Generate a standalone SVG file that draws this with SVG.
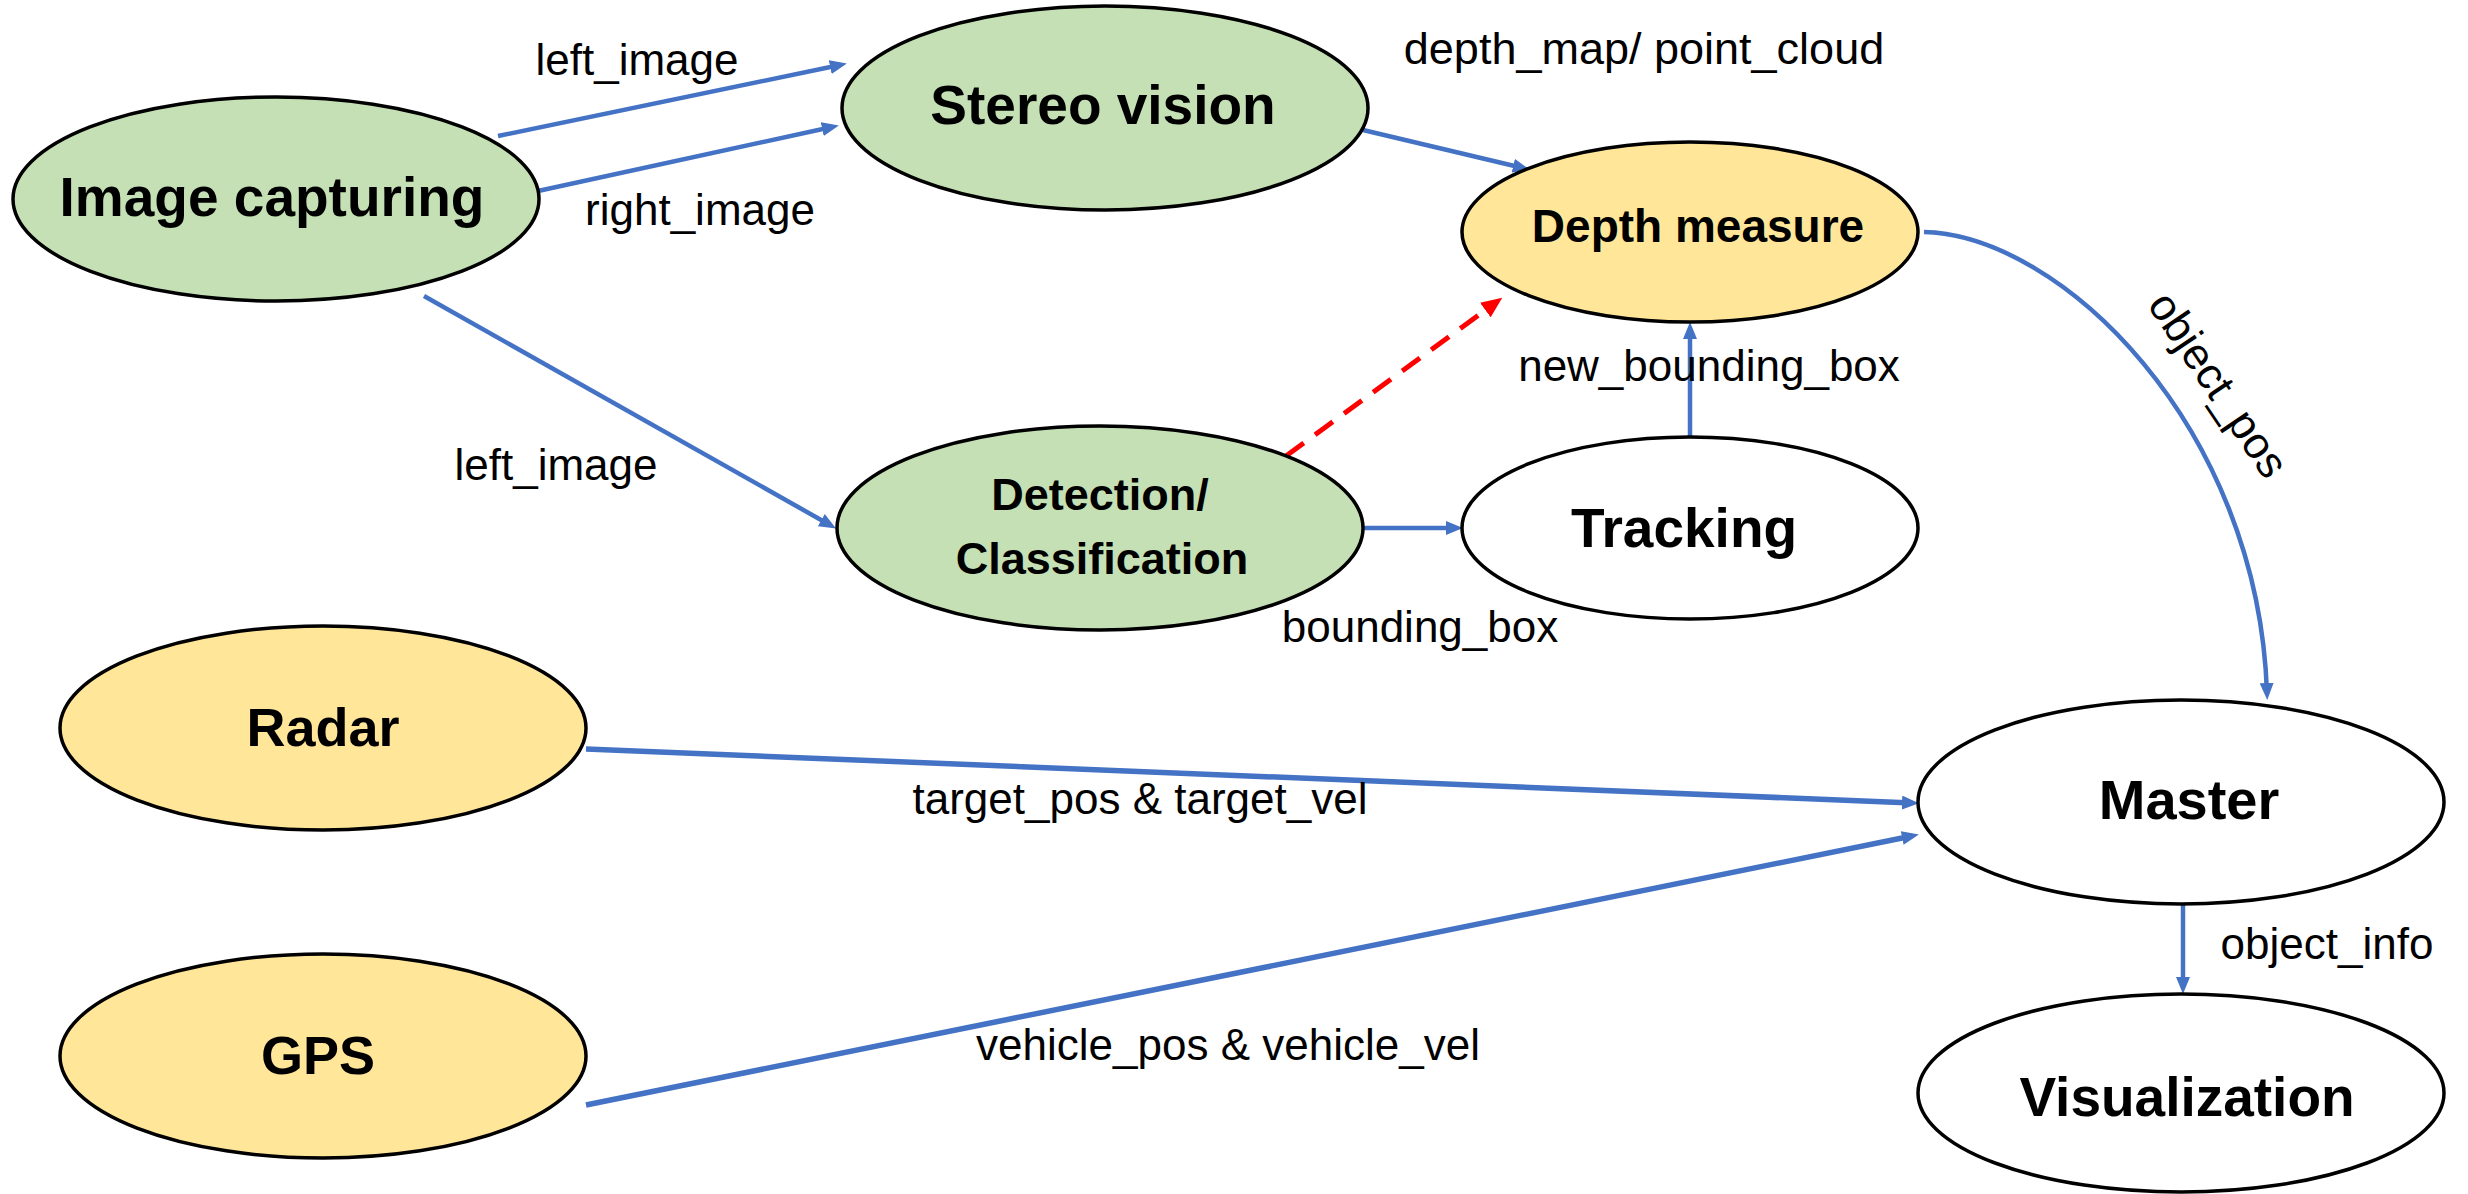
<svg xmlns="http://www.w3.org/2000/svg" width="2468" height="1194" viewBox="0 0 2468 1194">
<style>
.node ellipse{stroke:#000;stroke-width:3.5}
.green{fill:#C5E0B4}
.yellow{fill:#FFE699}
.white{fill:#FFFFFF}
.title{font-family:"Liberation Sans",Arial,sans-serif;font-weight:bold;fill:#000;text-anchor:middle}
.lbl{font-family:"Liberation Sans",Arial,sans-serif;font-size:44px;fill:#000;text-anchor:middle}
.edge{fill:none;stroke:#4472C4;stroke-width:4.5}
.thick{stroke-width:5.5}
.red{fill:none;stroke:#FF0000;stroke-width:5;stroke-dasharray:22 14}
</style>
<defs>
<marker id="ab" markerUnits="userSpaceOnUse" markerWidth="18" markerHeight="14" refX="10" refY="7" orient="auto">
<path d="M0,0 L17,7 L0,14 z" fill="#4472C4"/>
</marker>
<marker id="ar" markerUnits="userSpaceOnUse" markerWidth="22" markerHeight="18" refX="12" refY="9" orient="auto">
<path d="M0,0 L21,9 L0,18 z" fill="#FF0000"/>
</marker>
</defs>
<rect width="2468" height="1194" fill="#FFFFFF"/>

<g id="connectors">
<path class="edge" d="M498,136 L840,65" marker-end="url(#ab)"/>
<path class="edge" d="M538,191 L832,127" marker-end="url(#ab)"/>
<path class="edge" d="M424,296 L830,525" marker-end="url(#ab)"/>
<path class="edge" d="M1363,130 L1523,168" marker-end="url(#ab)"/>
<path class="edge" d="M1363,528 L1456,528" marker-end="url(#ab)"/>
<path class="edge" d="M1690,437 L1690,329" marker-end="url(#ab)"/>
<path class="red" d="M1286,456 L1495,303" marker-end="url(#ar)"/>
<path class="edge" d="M1924,232 C2060,235 2258,425 2267,693" marker-end="url(#ab)"/>
<path class="edge thick" d="M586,749 L1912,803" marker-end="url(#ab)"/>
<path class="edge thick" d="M586,1105 L1912,836" marker-end="url(#ab)"/>
<path class="edge" d="M2183,904 L2183,987" marker-end="url(#ab)"/>
</g>

<g id="labels">
<text class="lbl" x="637" y="75">left_image</text>
<text class="lbl" x="700" y="225">right_image</text>
<text class="lbl" x="556" y="480">left_image</text>
<text class="lbl" x="1644" y="64" style="font-size:45px">depth_map/ point_cloud</text>
<text class="lbl" x="1709" y="381">new_bounding_box</text>
<text class="lbl" x="1420" y="642">bounding_box</text>
<text class="lbl" x="1140" y="814">target_pos &amp; target_vel</text>
<text class="lbl" x="1228" y="1060">vehicle_pos &amp; vehicle_vel</text>
<text class="lbl" x="2327" y="959">object_info</text>
<text class="lbl" transform="translate(2206,393) rotate(56)">object_pos</text>
</g>

<g id="node-image-capturing" class="node">
<ellipse class="green" cx="276" cy="199" rx="263" ry="102"/>
<text class="title" x="272" y="216" font-size="55">Image capturing</text>
</g>
<g id="node-stereo-vision" class="node">
<ellipse class="green" cx="1105" cy="108" rx="263" ry="102"/>
<text class="title" x="1103" y="124" font-size="55">Stereo vision</text>
</g>
<g id="node-detection" class="node">
<ellipse class="green" cx="1100" cy="528" rx="263" ry="102"/>
<text class="title" x="1100" y="510" font-size="45">Detection/</text>
<text class="title" x="1102" y="574" font-size="45">Classification</text>
</g>
<g id="node-depth-measure" class="node">
<ellipse class="yellow" cx="1690" cy="232" rx="228" ry="90"/>
<text class="title" x="1698" y="242" font-size="46">Depth measure</text>
</g>
<g id="node-tracking" class="node">
<ellipse class="white" cx="1690" cy="528" rx="228" ry="91"/>
<text class="title" x="1684" y="547" font-size="55">Tracking</text>
</g>
<g id="node-radar" class="node">
<ellipse class="yellow" cx="323" cy="728" rx="263" ry="102"/>
<text class="title" x="323" y="746" font-size="54">Radar</text>
</g>
<g id="node-gps" class="node">
<ellipse class="yellow" cx="323" cy="1056" rx="263" ry="102"/>
<text class="title" x="318" y="1074" font-size="54">GPS</text>
</g>
<g id="node-master" class="node">
<ellipse class="white" cx="2181" cy="802" rx="263" ry="102"/>
<text class="title" x="2189" y="819" font-size="56">Master</text>
</g>
<g id="node-visualization" class="node">
<ellipse class="white" cx="2181" cy="1093" rx="263" ry="99"/>
<text class="title" x="2187" y="1116" font-size="55">Visualization</text>
</g>
</svg>
